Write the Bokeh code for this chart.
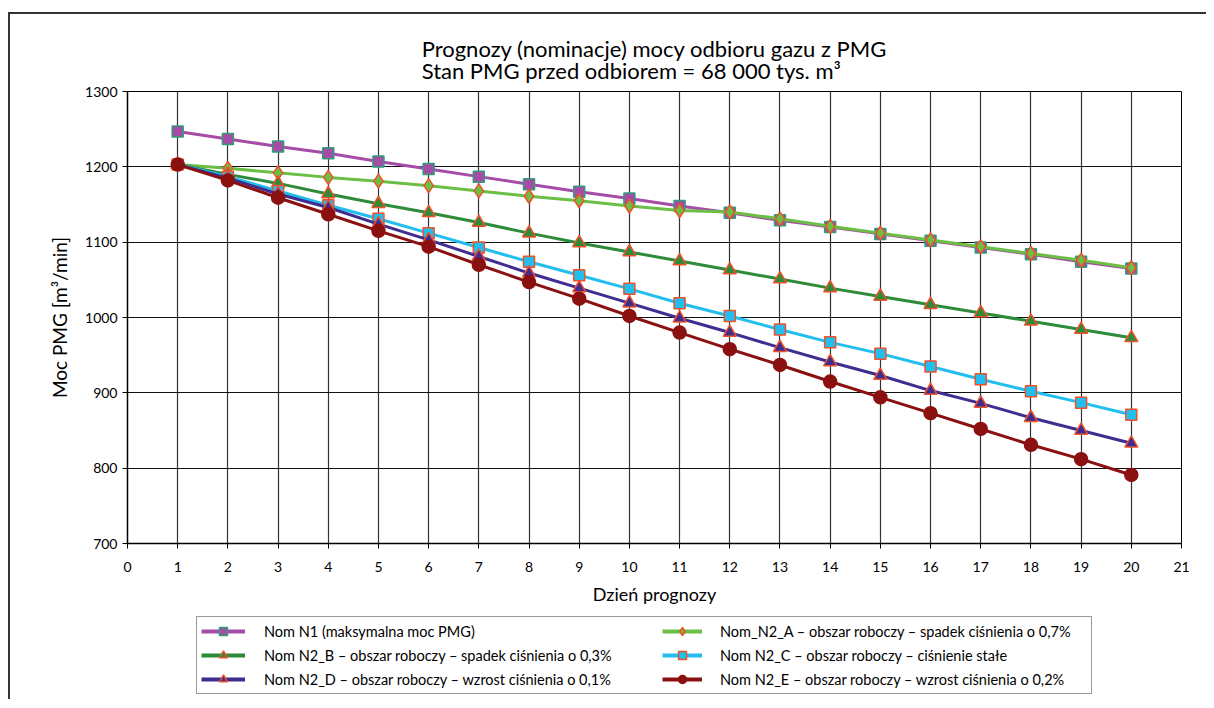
from bokeh.plotting import figure
from bokeh.layouts import column
from bokeh.models import FixedTicker, Legend, LegendItem, Range1d
from bokeh.embed import file_html
from bokeh.resources import INLINE

# ---- data ----
days = list(range(1, 21))
n1 = [1247, 1237, 1227, 1218, 1207, 1197, 1187, 1177, 1167, 1158,
      1148, 1139, 1129, 1120, 1111, 1102, 1093, 1084, 1074, 1065]
n2a = [1203, 1198, 1192, 1186, 1181, 1175, 1168, 1161, 1155, 1148,
       1142, 1140, 1131, 1121, 1112, 1103, 1094, 1085, 1076, 1066]
n2b = [1203, 1190, 1178, 1164, 1151, 1139, 1126, 1112, 1099, 1087,
       1075, 1063, 1051, 1039, 1028, 1017, 1006, 995, 984, 973]
n2c = [1203, 1187, 1168, 1149, 1131, 1112, 1093, 1074, 1056, 1038,
       1019, 1002, 984, 967, 952, 935, 918, 902, 887, 871]
n2d = [1203, 1185, 1164, 1146, 1124, 1103, 1081, 1059, 1039, 1019,
       999, 980, 960, 941, 923, 903, 886, 867, 850, 833]
n2e = [1203, 1182, 1159, 1137, 1115, 1094, 1070, 1047, 1025, 1002,
       980, 958, 937, 915, 894, 873, 852, 831, 812, 791]

labels = [
    "Nom N1 (maksymalna moc PMG)",
    "Nom_N2_A – obszar roboczy – spadek ciśnienia o 0,7%",
    "Nom N2_B – obszar roboczy – spadek ciśnienia o 0,3%",
    "Nom N2_C – obszar roboczy – ciśnienie stałe",
    "Nom N2_D – obszar roboczy – wzrost ciśnienia o 0,1%",
    "Nom N2_E – obszar roboczy – wzrost ciśnienia o 0,2%",
]
x_ticks = list(range(0, 22))
y_ticks = [700, 800, 900, 1000, 1100, 1200, 1300]

title_text = "Prognozy (nominacje) mocy odbioru gazu z PMG\nStan PMG przed odbiorem = 68 000 tys. m³"

FONT = "Lato"

p = figure(frame_width=1054, frame_height=452, output_backend="svg",
           toolbar_location=None,
           x_range=Range1d(0, 21), y_range=Range1d(700, 1300),
           min_border_left=117, min_border_right=25, min_border_top=77,
           min_border_bottom=66, background_fill_color="white",
           border_fill_color="white", outline_line_color="black",
           outline_line_width=1)

p.title.text = title_text
p.title.align = "center"
p.title.text_font = FONT
p.title.text_font_size = "22px"
p.title.text_font_style = "normal"
p.title.text_color = "black"
p.title.text_line_height = 0.85
p.title.standoff = 14

for ax in (p.xaxis[0], p.yaxis[0]):
    ax.major_label_text_font = FONT
    ax.major_label_text_font_size = "14px"
    ax.major_label_text_color = "black"
    ax.axis_label_text_font = FONT
    ax.axis_label_text_font_style = "normal"
    ax.axis_label_text_color = "black"
    ax.axis_line_color = "black"
    ax.axis_line_width = 1.5
    ax.major_tick_line_color = "black"
    ax.major_tick_in = 0
    ax.major_tick_out = 5
    ax.minor_tick_line_color = None

p.xaxis.ticker = FixedTicker(ticks=x_ticks)
p.yaxis.ticker = FixedTicker(ticks=y_ticks)
p.xaxis.axis_label = "Dzień prognozy"
p.xaxis.axis_label_text_font_size = "18px"
p.xaxis.major_label_standoff = 13
p.xaxis.axis_label_standoff = 8
p.yaxis.axis_label = "Moc PMG [m³/min]"
p.yaxis.axis_label_text_font_size = "19px"
p.yaxis.major_label_standoff = 5
p.yaxis.axis_label_standoff = 11

p.xgrid.grid_line_color = "#333333"
p.ygrid.grid_line_color = "#111111"
p.xgrid.grid_line_width = 1.2
p.ygrid.grid_line_width = 1

edge = "#F0502A"
series = [
    (n1, "#A64CA6", "square", "#A64CA6", "#2E9E78", 11),
    (n2a, "#6CBF45", "diamond", "#6CBF45", edge, 14),
    (n2b, "#2E8B3A", "triangle", "#2E8B3A", edge, 13),
    (n2c, "#22BFEE", "square", "#22BFEE", edge, 11),
    (n2d, "#3F2D8F", "triangle", "#3F2D8F", edge, 13),
    (n2e, "#8B1111", "circle", "#8B1111", "#8B1111", 13),
]

# legend panel: a second figure below the chart; its ranges keep the
# series themselves out of view so that only the legend swatches show
p2 = figure(width=1196, height=90, output_backend="svg", toolbar_location=None,
            x_range=Range1d(0, 1), y_range=Range1d(0, 1),
            x_axis_type=None, y_axis_type=None, min_border=0,
            outline_line_color=None, background_fill_color="white",
            border_fill_color="white")
p2.grid.visible = False

items = []
for (vals, lc, mk, fc, ec, sz), lab in zip(series, labels):
    p.line(days, vals, line_color=lc, line_width=3)
    p.scatter(days, vals, marker=mk, size=sz, fill_color=fc,
              line_color=ec, line_width=1.5)
    l1 = p2.line(days, vals, line_color=lc, line_width=4)
    l2 = p2.scatter(days, vals, marker=mk, size=sz, fill_color=fc,
                    line_color=ec, line_width=1.5)
    items.append(LegendItem(label=lab, renderers=[l1, l2]))

common = dict(orientation="vertical", label_text_font=FONT,
              label_text_font_size="14.5px", label_text_color="black",
              glyph_height=20, label_height=20, spacing=4, padding=4,
              margin=0)

leg1 = Legend(items=[items[0], items[2], items[4]], location=(69, 5),
              glyph_width=44, label_standoff=19, label_width=823,
              border_line_color="#333333", border_line_width=1,
              background_fill_color="white", background_fill_alpha=1,
              **common)
leg2 = Legend(items=[items[1], items[3], items[5]], location=(535, 10),
              glyph_width=40, label_standoff=18,
              border_line_color=None, background_fill_alpha=0,
              **common)
p2.add_layout(leg1, "center")
p2.add_layout(leg2, "center")

layout = column(p, p2, spacing=0)
layout.styles = {"border-left": "2px solid #333", "border-top": "2px solid #333",
                 "margin-top": "12px", "margin-left": "8px"}

open("out.html", "w").write(file_html(layout, INLINE))
